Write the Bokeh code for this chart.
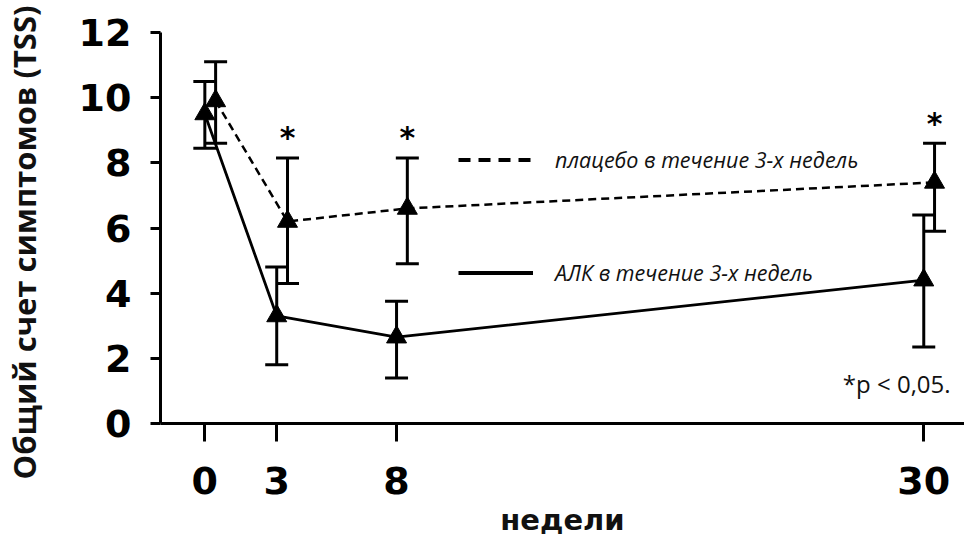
import numpy as np
from bokeh.plotting import figure
from bokeh.models import (ColumnDataSource, Whisker, TeeHead, Legend, LegendItem,
                          Label, FixedTicker, Range1d, Title)
from bokeh.transform import dodge
from bokeh.core.properties import value
from bokeh.embed import file_html
from bokeh.resources import INLINE

# ---- data ----
weeks = [0, 3, 8, 30]
week_labels = ["0", "3", "8", "30"]
alk_mean = [9.5, 3.3, 2.65, 4.4]
alk_low = [8.45, 1.8, 1.4, 2.35]
alk_high = [10.5, 4.8, 3.75, 6.4]
placebo_mean = [9.9, 6.2, 6.6, 7.4]
placebo_low = [8.6, 4.3, 4.9, 5.9]
placebo_high = [11.1, 8.15, 8.15, 8.6]
significant = [False, True, True, True]
y_ticks = [0, 2, 4, 6, 8, 10, 12]

label_placebo = "плацебо в течение 3-х недель"
label_alk = "АЛК в течение 3-х недель"
y_title = "Общий счет симптомов (TSS)"
x_title = "недели"
p_note = "*p < 0,05."

alk_src = ColumnDataSource(dict(x=weeks, y=alk_mean, lo=alk_low, hi=alk_high))
pl_src = ColumnDataSource(dict(x=weeks, y=placebo_mean, lo=placebo_low, hi=placebo_high))
sig_src = ColumnDataSource(dict(
    x=[w for w, s in zip(weeks, significant) if s],
    y=[h for h, s in zip(placebo_high, significant) if s],
    t=["*" for s in significant if s]))

PL_DODGE = 0.45

p = figure(width=964, height=539, output_backend="svg", toolbar_location=None,
           x_range=Range1d(-1.85, 31.7), y_range=Range1d(0, 12),
           min_border_left=157, min_border_right=0, min_border_top=32, min_border_bottom=115)
p.outline_line_color = None
p.xgrid.visible = False
p.ygrid.visible = False
p.background_fill_color = "white"
p.border_fill_color = "white"

# axes
for ax in (p.xaxis[0], p.yaxis[0]):
    ax.axis_line_width = 3
    ax.axis_line_color = "black"
    ax.major_tick_line_width = 3
    ax.major_tick_line_color = "black"
    ax.minor_tick_line_color = None
    ax.major_tick_in = 0
    ax.major_label_text_font = "DejaVu Sans"
    ax.major_label_text_font_style = "bold"
    ax.major_label_text_font_size = "38px"
    ax.major_label_text_color = "black"

p.xaxis.ticker = FixedTicker(ticks=weeks)
p.xaxis.major_label_overrides = {w: l for w, l in zip(weeks, week_labels)}
p.xaxis.major_tick_out = 18
p.xaxis.major_label_standoff = 25
p.xaxis.axis_label = x_title
p.xaxis.axis_label_text_font = "DejaVu Sans"
p.xaxis.axis_label_text_font_style = "bold"
p.xaxis.axis_label_text_font_size = "29px"
p.xaxis.axis_label_standoff = 6
p.xaxis.axis_label_text_color = "#111111"

p.yaxis.ticker = FixedTicker(ticks=y_ticks)
p.yaxis.major_tick_out = 10
p.yaxis.major_label_standoff = 19
# tiny blank axis label only to leave room between tick labels and the title
p.yaxis.axis_label = " "
p.yaxis.axis_label_text_font_size = "2px"
p.yaxis.axis_label_standoff = 26

ytitle = Title(text=y_title, align="left", offset=-56, standoff=0,
               text_font="Open Sans", text_font_style="bold",
               text_font_size="31px", text_color="#111111")
p.add_layout(ytitle, "left")

# lines
p.line(x=dodge("x", PL_DODGE), y="y", source=pl_src, line_color="black",
       line_width=2.5, line_dash="8 5")
p.line(x="x", y="y", source=alk_src, line_color="black", line_width=2.8)

# error bars
for src, dx in ((pl_src, PL_DODGE), (alk_src, 0)):
    w = Whisker(source=src, base=dodge("x", dx), lower="lo", upper="hi",
                line_color="black", line_width=3,
                upper_head=TeeHead(size=23, line_width=3, line_color="black"),
                lower_head=TeeHead(size=23, line_width=3, line_color="black"))
    p.add_layout(w)

# markers
p.scatter(x=dodge("x", PL_DODGE), y="y", source=pl_src, marker="triangle",
          size=20, fill_color="black", line_color="black")
p.scatter(x="x", y="y", source=alk_src, marker="triangle",
          size=20, fill_color="black", line_color="black")

# significance asterisks
p.text(x=dodge("x", PL_DODGE), y="y", text="t", source=sig_src, y_offset=-20,
       text_align="center", text_baseline="middle",
       text_font=value("DejaVu Sans"), text_font_style="bold",
       text_font_size="30px", text_color="black")

# legend proxies (no visible data) carrying the legend's own line styles
proxy = ColumnDataSource(dict(x=np.array([np.nan]), y=np.array([np.nan])))
r_pl = p.line(x="x", y="y", source=proxy, line_color="black", line_width=4, line_dash="12 8")
r_alk = p.line(x="x", y="y", source=proxy, line_color="black", line_width=4)
legend = Legend(items=[LegendItem(label=label_placebo, renderers=[r_pl]),
                       LegendItem(label=label_alk, renderers=[r_alk])],
                location=(298, 136), orientation="vertical",
                glyph_width=75, glyph_height=29, label_height=29, spacing=84,
                padding=0, margin=0, label_standoff=22,
                border_line_color=None, background_fill_alpha=0,
                label_text_font="Open Sans", label_text_font_style="italic",
                label_text_font_size="21.5px", label_text_color="#111111")
p.add_layout(legend)

p.add_layout(Label(x=31.12, y=1.22, text=p_note, text_align="right",
                   text_baseline="middle", text_font="Open Sans",
                   text_font_size="24px", text_color="#111111"))

open("out.html", "w").write(file_html(p, INLINE))
